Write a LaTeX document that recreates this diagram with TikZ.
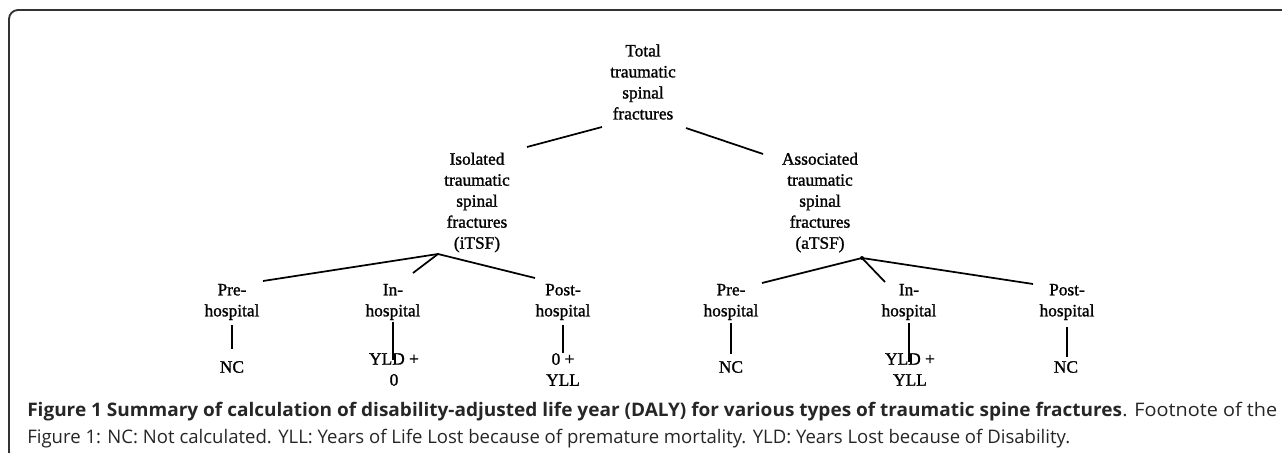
\documentclass[tikz,border=0pt]{standalone}
\usepackage{fontspec}
\setmainfont{Liberation Serif}
\newfontfamily\treefont[FakeBold=1.2]{Liberation Serif}
\newfontfamily\capfont{Open Sans}
\usepackage{graphicx}
\newlength\capwa
\newlength\capwb
\newlength\capwc
\newcommand\capPartA{\bfseries Figure 1 Summary of calculation of disability-adjusted life year (DALY) for various types of traumatic spine fractures}
\newcommand\capPartB{. Footnote of the}
\newcommand\capLineB{Figure 1: NC: Not calculated. YLL: Years of Life Lost because of premature mortality. YLD: Years Lost because of Disability.}
\newcommand\capsize{\capfont\fontsize{14pt}{17pt}\selectfont}
\begin{document}
\settowidth{\capwa}{\capsize\capPartA}%
\settowidth{\capwb}{\capsize\capPartB}%
\settowidth{\capwc}{\capsize\capLineB}%
\pgfmathsetmacro\capfa{821.25pt/\capwa}%
\pgfmathsetmacro\capfb{116.25pt/\capwb}%
\pgfmathsetmacro\capfc{782.25pt/\capwc}%
\begin{tikzpicture}[x=0.75pt,y=-0.75pt,
  tn/.style={align=center,inner sep=0pt,font=\treefont\fontsize{13pt}{15.75pt}\selectfont},
  dl/.style={line width=1.3pt},
  vl/.style={line width=1pt},
  capstyle/.style={anchor=base west,inner sep=0pt,text=black!85,font=\capsize}]
\useasboundingbox (0,0) rectangle (1282,453);
\begin{scope}
\clip (0,0) rectangle (1282,453);
\draw[line width=1.4pt, black!80, rounded corners=6.75pt] (1300,10) -- (9,10) -- (9,461) -- (1300,461);
\end{scope}
% tree nodes
\node[tn] (total) at (643,82) {Total\\traumatic\\spinal\\fractures};
\node[tn] (iso) at (477,202.5) {Isolated\\traumatic\\spinal\\fractures\\(iTSF)};
\node[tn] (asc) at (820,202.5) {Associated\\traumatic\\spinal\\fractures\\(aTSF)};
\node[tn] (lpre) at (232,302) {Pre-\\hospital};
\node[tn] (lin) at (393,302) {In-\\hospital};
\node[tn] (lpost) at (563,302) {Post-\\hospital};
\node[tn] (rpre) at (731,302) {Pre-\\hospital};
\node[tn] (rin) at (909,302) {In-\\hospital};
\node[tn] (rpost) at (1067,302) {Post-\\hospital};
\node[tn] (lnc) at (232,367) {NC};
\node[tn] (lyld) at (394,369.5) {YLD +\\0};
\node[tn] (lres) at (563,369.5) {0 +\\YLL};
\node[tn] (rnc) at (731,367) {NC};
\node[tn] (ryld) at (910,369.5) {YLD +\\YLL};
\node[tn] (rnc2) at (1066,367) {NC};
% junctions and line ends
\coordinate (t1) at (602,127);
\coordinate (i1) at (527,147);
\coordinate (t2) at (686,128);
\coordinate (a1) at (763,154);
\coordinate (ljn) at (438,254);
\coordinate (lp) at (263,281);
\coordinate (li) at (413,273);
\coordinate (lo) at (535,278);
\coordinate (rjn) at (862,258);
\coordinate (rp) at (762,283);
\coordinate (ri) at (885,282);
\coordinate (ro) at (1033,284);
\draw[dl] (t1) -- (i1);
\draw[dl] (t2) -- (a1);
\draw[dl] (ljn) -- (lp);
\draw[dl] (ljn) -- (li);
\draw[dl] (ljn) -- (lo);
\draw[dl] (rjn) -- (rp);
\draw[dl] (rjn) -- (ri);
\draw[dl] (rjn) -- (ro);
\fill (rjn) circle (2);
% vertical connectors
\draw[vl,shorten <=3.75pt,shorten >=8.6pt] (lpre.south) -- (lpre.south |- lnc.north);
\draw[vl,shorten <=1.5pt,shorten >=-5.6pt] (lin.south) -- (lin.south |- lyld.north);
\draw[vl,shorten <=3.75pt] (lpost.south) -- (lpost.south |- lres.north);
\draw[vl,shorten <=2.25pt,shorten >=4.9pt] (rpre.south) -- (rpre.south |- rnc.north);
\draw[vl,shorten <=2.25pt,shorten >=-6.4pt] (rin.south) -- (rin.south |- ryld.north);
\draw[vl,shorten <=5.25pt,shorten >=2.6pt] (rpost.south) -- (rpost.south |- rnc2.north);
% caption
\node[capstyle] (cap1) at (27,416) {\scalebox{\capfa}[1]{\capPartA}\scalebox{\capfb}[1]{\capPartB}};
\node[capstyle] (cap2) at (27,443) {\scalebox{\capfc}[1]{\capLineB}};
\end{tikzpicture}
\end{document}
